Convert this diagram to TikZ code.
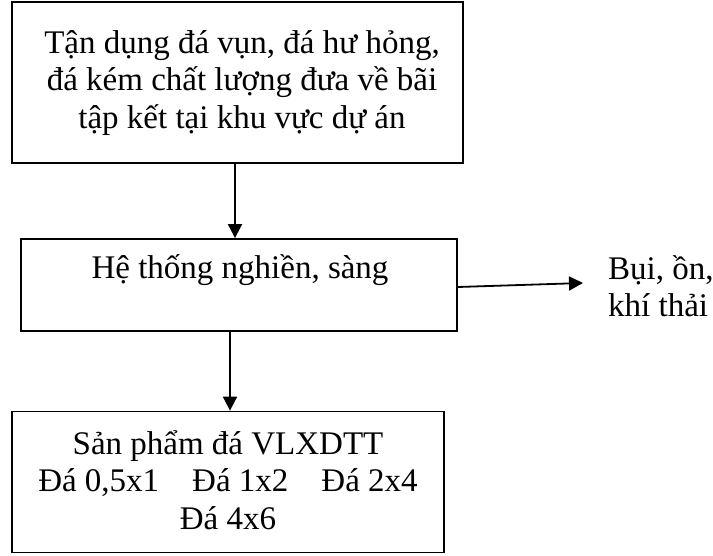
\documentclass[tikz,border=0pt]{standalone}
\usepackage{fontspec}
\setmainfont{Liberation Serif}
\usetikzlibrary{arrows.meta}
\begin{document}
\begin{tikzpicture}[x=1pt,y=-1pt,
  box/.style={draw, line width=1.8pt, inner sep=0pt},
  txt/.style={align=center, font=\fontsize{33}{37.5}\selectfont, inner sep=0pt},
  flow/.style={-{Triangle[length=14pt,width=14pt]}, line width=1.8pt}]
\useasboundingbox (0,0) rectangle (713,556);
% process boxes
\node[box, minimum width=451pt, minimum height=161pt] (src) at (237.5,82.5) {};
\node[txt] (srct) at (242,83) {Tận dụng đá vụn, đá hư hỏng,\\ đá kém chất lượng đưa về bãi\\ tập kết tại khu vực dự án};
\node[box, minimum width=436pt, minimum height=92pt] (mill) at (239,285) {};
\node[txt] (millt) at (240,270) {Hệ thống nghiền, sàng};
\node[box, minimum width=432pt, minimum height=141pt] (prod) at (228,482) {};
\node[txt] (prodt) at (228,480) {Sản phẩm đá VLXDTT\\ Đá 0,5x1\quad Đá 1x2\quad Đá 2x4\\ Đá 4x6};
% emissions
\coordinate (out) at (583,283);
\node[txt, anchor=west, align=left] (emis) at (608,286) {Bụi, ồn,\\ khí thải};
% connectors
\draw[flow] (src.south -| 235,0) -- (mill.north -| 235,0);
\draw[flow] (mill.south -| 230,0) -- (prod.north -| 230,0);
\draw[flow] (mill.east |- 0,287) -- (out);
\end{tikzpicture}
\end{document}
